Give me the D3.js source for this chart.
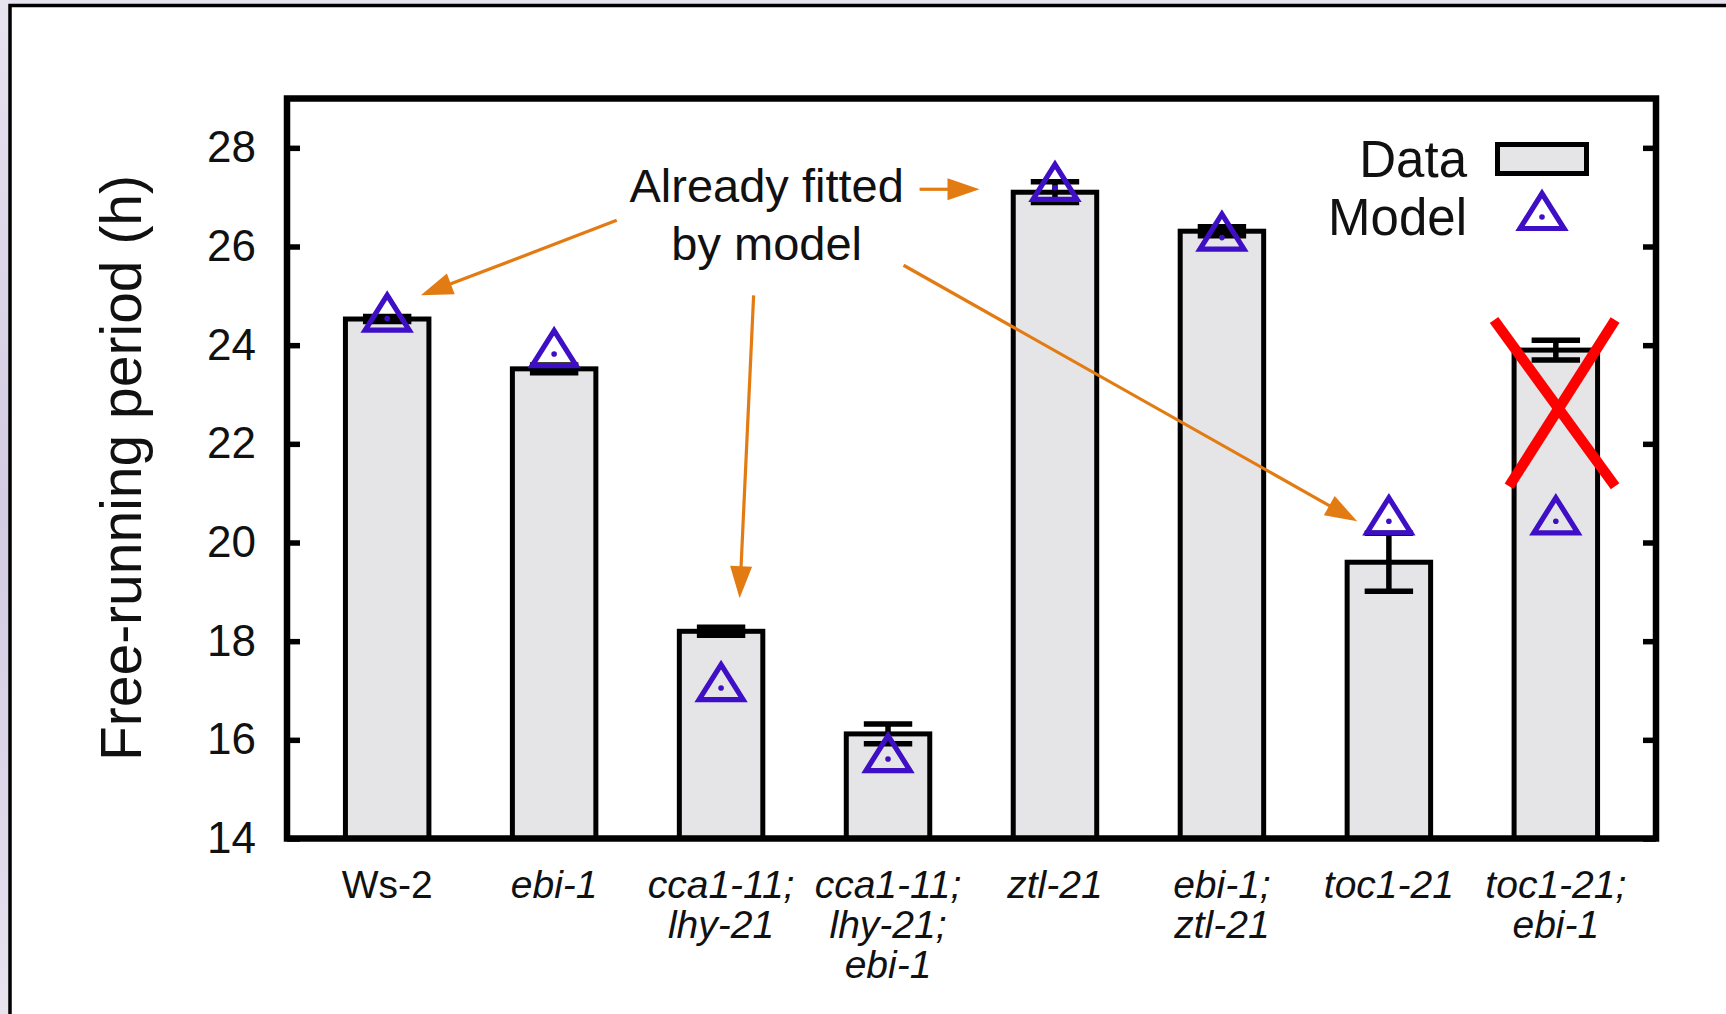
<!DOCTYPE html>
<html>
<head>
<meta charset="utf-8">
<script src="https://cdn.jsdelivr.net/npm/d3@7"></script>
<style>
  html, body { margin: 0; padding: 0; }
  body {
    width: 1726px; height: 1014px; overflow: hidden;
    background: linear-gradient(180deg, #e7e3ef 0%, #ddd7e9 25%, #d3cce2 50%, #dcd6e8 75%, #e7e3ef 100%);
  }
  svg { display: block; }
  text { font-family: "Liberation Sans", Arial, Helvetica, sans-serif; fill: #111; }
</style>
</head>
<body>
<svg id="chart" width="1726" height="1014"></svg>
<script>
// Genotypes (multi-line labels), measured periods, errors and model predictions
const categories = [
  ["Ws-2"],
  ["ebi-1"],
  ["cca1-11;", "lhy-21"],
  ["cca1-11;", "lhy-21;", "ebi-1"],
  ["ztl-21"],
  ["ebi-1;", "ztl-21"],
  ["toc1-21"],
  ["toc1-21;", "ebi-1"]
];
const italicLabel = [false, true, true, true, true, true, true, true];
const dataPeriod  = [24.53, 23.52, 18.20, 16.12, 27.10, 26.31, 19.60, 23.90];
const dataError   = [0.05, 0.08, 0.08, 0.20, 0.21, 0.09, 0.59, 0.20];
const modelPeriod = [24.54, 23.82, 17.05, 15.61, 27.19, 26.18, 20.43, 20.43];
const yTicks = [14, 16, 18, 20, 22, 24, 26, 28];
const legendLabels = ["Data", "Model"];

// Annotation: text and arrows given in data coordinates [x, y]
const noteLines = ["Already fitted", "by model"];
const noteAnchor = [2.273, 26.90];
const noteArrows = [
  { from: [1.375, 26.53], to: [0.202, 25.01] },
  { from: [2.195, 25.01], to: [2.111, 18.87] },
  { from: [3.189, 27.16], to: [3.548, 27.16] },
  { from: [3.093, 25.62], to: [5.810, 20.43] }
];
// Red cross over the excluded genotype
const crossLines = [
  { from: [6.63, 24.51], to: [7.355, 21.14] },
  { from: [7.355, 24.51], to: [6.72, 21.14] }
];

const W = 1726, H = 1014;
const svg = d3.select("#chart");

const BAR_FILL = "#e5e5e8";
const MODEL_COLOR = "#3f0fc6";
const ARROW_COLOR = "#e37b13";

// White panel with thin black border
svg.append("rect")
  .attr("x", 10).attr("y", 5.5)
  .attr("width", W + 20).attr("height", H + 20)
  .attr("fill", "#fff").attr("stroke", "#000").attr("stroke-width", 3.5);

const x = d3.scaleLinear().domain([-0.6, 7.6]).range([287, 1656]);
const y = d3.scaleLinear().domain([14, 29]).range([838.5, 98.5]);

// Bars
const idx = d3.range(categories.length);
svg.append("g").selectAll("rect")
  .data(idx).join("rect")
  .attr("x", i => x(i - 0.25))
  .attr("width", x(0.25) - x(-0.25))
  .attr("y", i => y(dataPeriod[i]))
  .attr("height", i => y(14) - y(dataPeriod[i]))
  .attr("fill", BAR_FILL).attr("stroke", "#000").attr("stroke-width", 5);

// Error bars
const capHalf = 0.145;
const eg = svg.append("g").attr("stroke", "#000").attr("stroke-width", 5.5);
idx.forEach(i => {
  const lo = dataPeriod[i] - dataError[i], hi = dataPeriod[i] + dataError[i];
  eg.append("line").attr("x1", x(i)).attr("x2", x(i)).attr("y1", y(lo)).attr("y2", y(hi));
  eg.append("line").attr("x1", x(i - capHalf)).attr("x2", x(i + capHalf)).attr("y1", y(lo)).attr("y2", y(lo));
  eg.append("line").attr("x1", x(i - capHalf)).attr("x2", x(i + capHalf)).attr("y1", y(hi)).attr("y2", y(hi));
});

// Open triangle marker with a centre dot
function triangle(g, cx, cy) {
  g.append("path")
    .attr("d", `M${cx},${cy - 23.5}L${cx + 22},${cy + 11.5}L${cx - 22},${cy + 11.5}Z`)
    .attr("fill", "none").attr("stroke", MODEL_COLOR).attr("stroke-width", 5.2)
    .attr("stroke-linejoin", "miter");
  g.append("circle").attr("cx", cx).attr("cy", cy).attr("r", 2.8).attr("fill", MODEL_COLOR);
}
const mg = svg.append("g");
idx.forEach(i => triangle(mg, x(i), y(modelPeriod[i])));

// Frame
svg.append("rect")
  .attr("x", x(-0.6)).attr("y", y(29))
  .attr("width", x(7.6) - x(-0.6)).attr("height", y(14) - y(29))
  .attr("fill", "none").attr("stroke", "#000").attr("stroke-width", 6.5);

// Y axes (inward ticks on both sides)
const left = svg.append("g").attr("transform", `translate(${x(-0.6)},0)`)
  .call(d3.axisLeft(y).tickValues(yTicks).tickSizeInner(-13).tickSizeOuter(0).tickPadding(31).tickFormat(d3.format("d")));
left.select(".domain").remove();
left.selectAll(".tick line").attr("stroke", "#000").attr("stroke-width", 5.5);
left.selectAll(".tick text")
  .attr("font-size", 44).attr("font-family", "Liberation Sans, Arial, sans-serif").attr("fill", "#111");

const right = svg.append("g").attr("transform", `translate(${x(7.6)},0)`)
  .call(d3.axisRight(y).tickValues(yTicks).tickSizeInner(-13).tickSizeOuter(0).tickFormat(""));
right.select(".domain").remove();
right.selectAll(".tick line").attr("stroke", "#000").attr("stroke-width", 5.5);

// Category labels, one text per line
const lg = svg.append("g");
idx.forEach(i => {
  categories[i].forEach((line, k) => {
    lg.append("text")
      .attr("x", x(i)).attr("y", 898 + k * 40)
      .attr("text-anchor", "middle").attr("font-size", 39)
      .attr("font-style", italicLabel[i] ? "italic" : "normal")
      .text(line);
  });
});

// Y axis title
svg.append("text")
  .attr("transform", "translate(141,468) rotate(-90)")
  .attr("text-anchor", "middle").attr("font-size", 57)
  .text("Free-running period (h)");

// Legend
const legX = 1467;
svg.append("text").attr("x", legX).attr("y", 177).attr("text-anchor", "end").attr("font-size", 51).text(legendLabels[0]);
svg.append("text").attr("x", legX).attr("y", 235).attr("text-anchor", "end").attr("font-size", 51).text(legendLabels[1]);
svg.append("rect").attr("x", 1497.5).attr("y", 144.5).attr("width", 89).attr("height", 29)
  .attr("fill", BAR_FILL).attr("stroke", "#000").attr("stroke-width", 5);
triangle(svg.append("g"), 1542, 217);

// Annotation text
noteLines.forEach((line, k) => {
  svg.append("text").attr("text-anchor", "middle").attr("font-size", 47)
    .attr("x", x(noteAnchor[0])).attr("y", y(noteAnchor[1]) + k * 58).text(line);
});

// Orange arrows
const ag = svg.append("g");
noteArrows.forEach(a => {
  const x1 = x(a.from[0]), y1 = y(a.from[1]), x2 = x(a.to[0]), y2 = y(a.to[1]);
  const dx = x2 - x1, dy = y2 - y1, len = Math.hypot(dx, dy);
  const ux = dx / len, uy = dy / len;
  const headL = 32, headW = 11;
  const bx = x2 - ux * headL, by = y2 - uy * headL;
  ag.append("line").attr("x1", x1).attr("y1", y1).attr("x2", bx + ux * 2).attr("y2", by + uy * 2)
    .attr("stroke", ARROW_COLOR).attr("stroke-width", 3.2);
  ag.append("path")
    .attr("d", `M${x2},${y2}L${bx - uy * headW},${by + ux * headW}L${bx + uy * headW},${by - ux * headW}Z`)
    .attr("fill", ARROW_COLOR);
});

// Red cross
const cg = svg.append("g");
crossLines.forEach(c => {
  cg.append("line")
    .attr("x1", x(c.from[0])).attr("y1", y(c.from[1]))
    .attr("x2", x(c.to[0])).attr("y2", y(c.to[1]))
    .attr("stroke", "#ff0000").attr("stroke-width", 10.5).attr("stroke-linecap", "butt");
});
</script>
</body>
</html>
